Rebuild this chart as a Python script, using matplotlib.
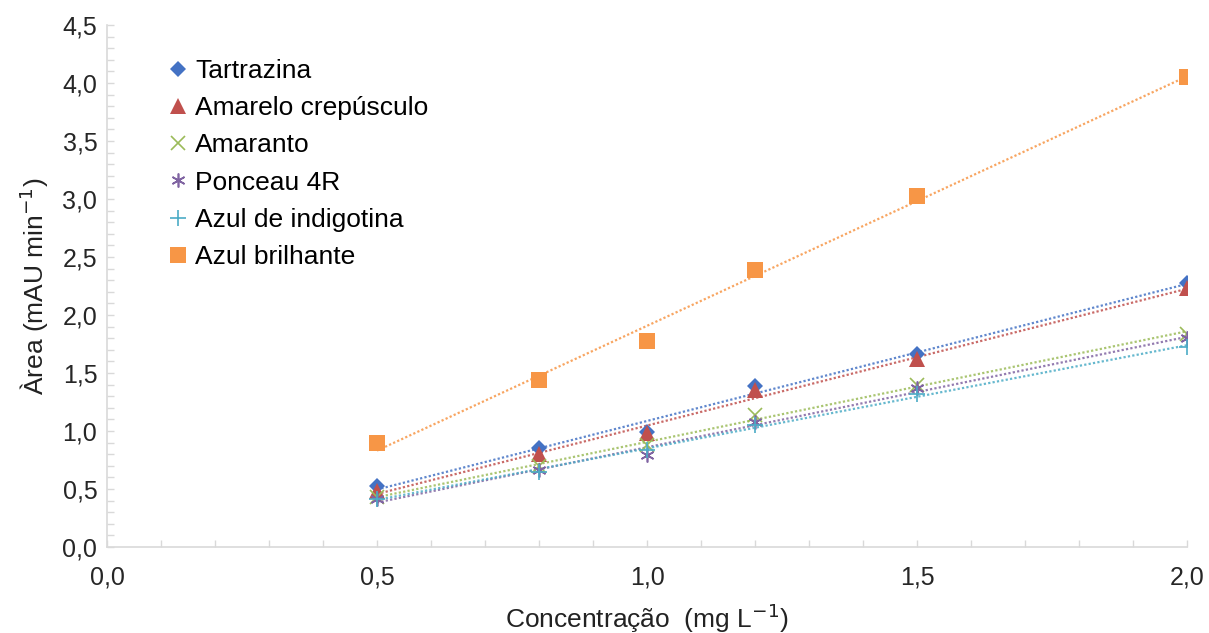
import numpy as np
import matplotlib
matplotlib.use("Agg")
import matplotlib.pyplot as plt
from matplotlib.ticker import MultipleLocator, FuncFormatter

plt.rcParams["font.family"] = ["Liberation Sans", "DejaVu Sans"]

# ── DATA ──────────────────────────────────────────────────────────────────────
conc = [0.5, 0.8, 1.0, 1.2, 1.5, 2.0]

tartrazina = [0.53, 0.85, 0.99, 1.39, 1.66, 2.28]
amarelo    = [0.48, 0.80, 0.98, 1.35, 1.62, 2.23]
amaranto   = [0.43, 0.70, 0.88, 1.14, 1.40, 1.84]
ponceau    = [0.41, 0.66, 0.79, 1.08, 1.37, 1.80]
indigotina = [0.41, 0.65, 0.84, 1.05, 1.32, 1.72]
brilhante  = [0.90, 1.44, 1.78, 2.39, 3.03, 4.05]

labels = ["Tartrazina", "Amarelo crepúsculo", "Amaranto",
          "Ponceau 4R", "Azul de indigotina", "Azul brilhante"]

# ── STYLE ─────────────────────────────────────────────────────────────────────
series = [
    (tartrazina, "#4472C4", "D", 8),
    (amarelo,    "#C0504D", "^", 11),
    (amaranto,   "#9BBB59", "x", 10),
    (ponceau,    "#8064A2", (6, 2, 0), 10),
    (indigotina, "#4BACC6", "+", 11),
    (brilhante,  "#F79646", "s", 11),
]

fig = plt.figure(figsize=(12.09, 6.33), dpi=100)
ax = fig.add_axes([107 / 1209, 86 / 633, 1080 / 1209, 522 / 633])

x = np.array(conc)
for (vals, color, marker, ms), lab in zip(series, labels):
    y = np.array(vals)
    k, b = np.polyfit(x, y, 1)
    xf = np.array([x.min(), x.max()])
    ax.plot(xf, k * xf + b, linestyle=(0, (1, 1)), color=color,
            linewidth=1.6, alpha=0.85, zorder=2)
    mew = 1.2 if marker in ("x", "+", (6, 2, 0)) else 0
    ax.plot(x, y, linestyle="none", marker=marker, markersize=ms,
            color=color, markeredgewidth=mew, label=lab, zorder=3)

ax.set_xlim(0, 2.0)
ax.set_ylim(0, 4.5)

comma = FuncFormatter(lambda v, p: f"{v:.1f}".replace(".", ","))
ax.xaxis.set_major_locator(MultipleLocator(0.5))
ax.xaxis.set_minor_locator(MultipleLocator(0.1))
ax.yaxis.set_major_locator(MultipleLocator(0.5))
ax.yaxis.set_minor_locator(MultipleLocator(0.1))
ax.xaxis.set_major_formatter(comma)
ax.yaxis.set_major_formatter(comma)

grey = "#D9D9D9"
for side in ("top", "right"):
    ax.spines[side].set_visible(False)
for side in ("left", "bottom"):
    ax.spines[side].set_color(grey)
    ax.spines[side].set_linewidth(1.2)

ax.tick_params(which="both", direction="in", color=grey, width=1.0, length=5,
               labelsize=18, labelcolor="#262626")
ax.tick_params(axis="x", which="both", pad=13)
ax.tick_params(axis="y", which="both", pad=7)

ax.set_xlabel("Concentração  (mg L$^{-1}$)", fontsize=19, color="#222222", labelpad=9)
ax.set_ylabel("Àrea (mAU min$^{-1}$)", fontsize=19, color="#222222", labelpad=8)

leg = ax.legend(loc="upper left", bbox_to_anchor=(0.045, 0.96), frameon=False,
                fontsize=19, handlelength=0.7, handletextpad=0.3,
                labelspacing=0.5, borderpad=0)

plt.savefig("out.png", dpi=100)
plt.close()
